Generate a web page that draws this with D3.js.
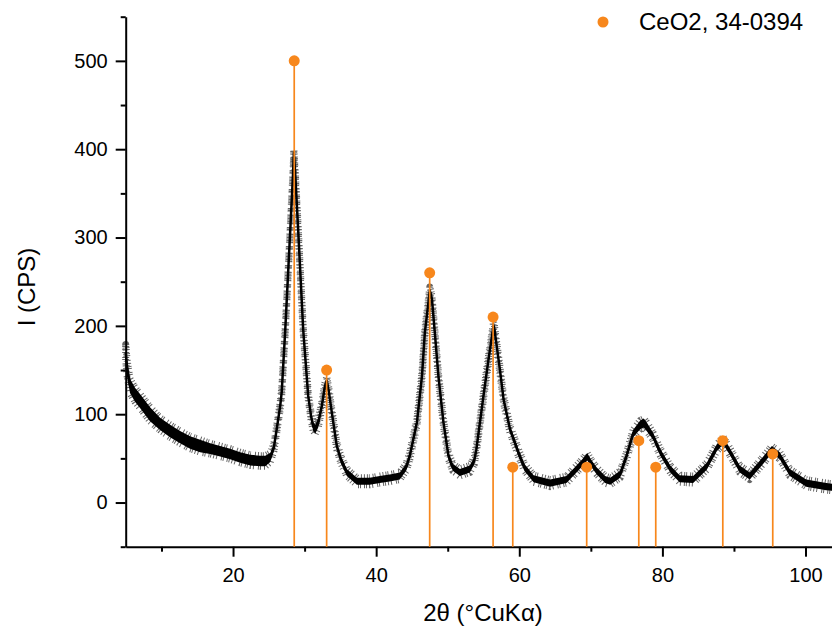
<!DOCTYPE html>
<html>
<head>
<meta charset="utf-8">
<script src="https://cdn.jsdelivr.net/npm/d3@7"></script>
<style>
body { margin: 0; background: #fff; }
text { font-family: "Liberation Sans", Arial, sans-serif; fill: #000; }
.axis path, .axis line { stroke: #000; stroke-width: 2px; }
</style>
</head>
<body>
<div id="chart-area"></div>
<script>
var twoTheta = [5.0,5.2,5.6,6.3,7.0,8.4,9.8,11.2,12.6,14.0,15.4,16.8,18.2,19.6,21.0,22.4,23.8,24.5,25.2,25.7,
    26.1,26.6,26.8,27.3,28.0,28.4,28.5,28.7,29.1,29.8,30.5,30.9,31.2,31.5,31.9,32.4,32.8,33.1,33.4,33.8,
    34.5,35.1,35.9,37.3,39.1,40.5,42.1,43.3,44.2,44.7,45.7,46.4,46.8,47.5,47.8,48.2,48.7,49.4,50.1,50.7,
    51.7,53.1,53.7,54.0,55.0,55.7,56.4,56.5,57.1,57.3,57.8,58.2,58.7,59.2,59.9,60.7,62.0,64.3,66.6,68.0,
    68.8,69.5,70.0,70.8,72.0,72.7,74.1,75.0,75.9,76.9,77.4,77.8,78.7,79.7,81.1,82.4,84.3,86.2,87.6,88.5,
    89.4,90.8,92.2,94.1,95.3,96.4,97.8,100.1,102.9,104.1];
var intensity = [170,152,132,122,115,100,89,81,74,68,64,61,58,55,51,48,47,47,51,62,
    83,110,125,196,309,375,396,370,309,196,121,98,86,83,90,109,130,138,125,102,
    64,48,34,24,24,26,28,30,40,53,91,143,192,240,230,192,143,91,53,40,
    34,38,47,60,121,162,200,198,162,150,117,102,83,72,56,40,27,22,26,38,
    45,52,45,36,26,24,32,53,78,88,90,86,75,57,38,27,26,41,62,70,
    58,38,30,48,60,53,34,22,18,17];
var noise = [9,9,8,8,8,8,7,7,7,7,7,6,6,6,6,6,6,6,5,4,
    4,4,4,4,4,4,4,4,4,4,4,4,5,5,5,4,4,4,4,4,
    4,4,4,4,4,4,4,4,4,4,4,4,4,4,4,4,4,4,4,4,
    4,4,4,4,4,4,4,4,4,4,4,4,4,4,4,4,4,4,4,4,
    4,4,4,4,4,4,4,4,4,5,5,5,4,4,4,4,4,4,4,4,
    4,4,4,4,4,4,4,4,4,4];

// CeO2 reference card 34-0394
var refPos = [28.55, 33.08, 47.48, 56.34, 59.09, 69.42, 76.70, 79.07, 88.44, 95.42];
var refInt = [500, 150, 260, 210, 40, 40, 70, 40, 70, 55];

var xMajor = [20, 40, 60, 80, 100];
var xMinor = [10, 30, 50, 70, 90];
var yMajor = [0, 100, 200, 300, 400, 500];
var yMinor = [-50, 50, 150, 250, 350, 450, 550];

var orange = '#f7871c';

var margin = { left: 125.7, right: 0, top: 16.7, bottom: 83.3 };
var width = 832 - margin.left - margin.right,
    height = 630 - margin.top - margin.bottom;

var svg = d3.select('#chart-area')
    .append('svg')
        .attr('width', 832)
        .attr('height', 630);

var g = svg.append('g')
    .attr('transform', 'translate(' + margin.left + ',' + margin.top + ')');

var xScale = d3.scaleLinear().domain([5, 103.7]).range([0, width]);
var yScale = d3.scaleLinear().domain([-50, 550]).range([height, 0]);

var pts = twoTheta.map(function(t, i) { return { t: t, y: intensity[i], n: noise[i] }; });

// noisy pattern: core band, with a hatched edge for the spiky look
var band = d3.area()
    .x(function(d) { return xScale(d.t); })
    .y0(function(d) { return yScale(d.y - d.n); })
    .y1(function(d) { return yScale(d.y + d.n); });

var line = d3.line()
    .x(function(d) { return xScale(d.t); })
    .y(function(d) { return yScale(d.y); });

g.append('path').datum(pts).attr('d', band)
    .attr('fill', 'none').attr('stroke', '#222').attr('stroke-width', 7)
    .attr('stroke-linejoin', 'round')
    .attr('stroke-dasharray', '1 2 1 1 1 3 1 1 1 4 1 2')
    .attr('stroke-opacity', 0.7);
g.append('path').datum(pts).attr('d', band).attr('fill', '#000');
g.append('path').datum(pts).attr('d', line)
    .attr('fill', 'none').attr('stroke', '#000').attr('stroke-width', 2.5)
    .attr('stroke-linejoin', 'round');

// axes
var xAxis = d3.axisBottom(xScale).tickValues(xMajor).tickSize(10).tickSizeOuter(0).tickPadding(11);
var xAxisMinor = d3.axisBottom(xScale).tickValues(xMinor).tickSize(5).tickFormat('');
var yAxis = d3.axisLeft(yScale).tickValues(yMajor).tickSize(10).tickSizeOuter(0).tickPadding(8);
var yAxisMinor = d3.axisLeft(yScale).tickValues(yMinor).tickSize(5).tickFormat('');

g.append('g').attr('class', 'axis').attr('transform', 'translate(0,' + height + ')').call(xAxisMinor)
    .select('.domain').remove();
g.append('g').attr('class', 'axis').call(yAxisMinor).select('.domain').remove();
var xAxisGroup = g.append('g').attr('class', 'x axis').attr('transform', 'translate(0,' + height + ')').call(xAxis);
var yAxisGroup = g.append('g').attr('class', 'y axis').call(yAxis);

g.selectAll('.axis text').attr('font-size', 20).attr('font-family', '"Liberation Sans", Arial, sans-serif').attr('fill', '#000');

// reference sticks
g.selectAll('.stick')
    .data(refPos)
    .enter()
    .append('line')
        .attr('class', 'stick')
        .attr('x1', function(d) { return xScale(d); })
        .attr('x2', function(d) { return xScale(d); })
        .attr('y1', function(d, i) { return yScale(refInt[i]); })
        .attr('y2', height)
        .attr('stroke', orange)
        .attr('stroke-width', 1.7);

g.selectAll('.refdot')
    .data(refPos)
    .enter()
    .append('circle')
        .attr('class', 'refdot')
        .attr('cx', function(d) { return xScale(d); })
        .attr('cy', function(d, i) { return yScale(refInt[i]); })
        .attr('r', 5.5)
        .attr('fill', orange);

// labels
svg.append('text').attr('x', 483).attr('y', 621).attr('text-anchor', 'middle')
    .attr('font-size', 24).text('2θ (°CuKα)');
svg.append('text').attr('transform', 'translate(35,287) rotate(-90)').attr('text-anchor', 'middle')
    .attr('font-size', 24).text('I (CPS)');

// legend
svg.append('circle').attr('cx', 603).attr('cy', 22).attr('r', 5.5).attr('fill', orange);
svg.append('text').attr('x', 639).attr('y', 29.5).attr('font-size', 24).text('CeO2, 34-0394');
</script>
</body>
</html>
